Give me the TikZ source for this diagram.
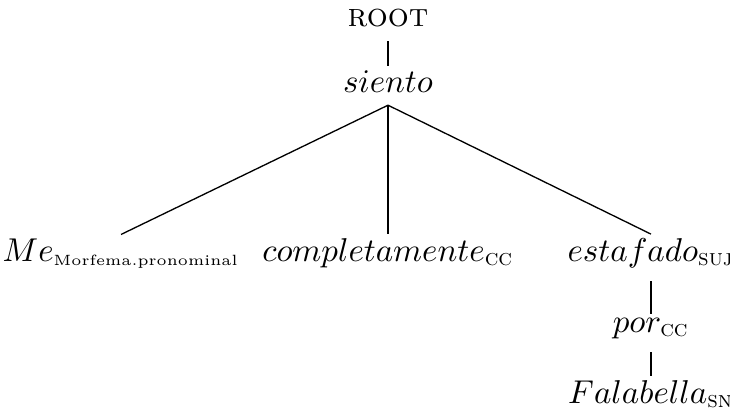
\documentclass[tikz,border=0pt]{standalone}
\usepackage{amsmath}

\tikzset{word/.style={anchor=base, inner sep=1pt},
         branch/.style={shorten <=3pt}}

\begin{document}
\begin{tikzpicture}[x=0.303pt, y=-0.303pt]
    \useasboundingbox (0,0) rectangle (730,408);
    \node[word] (root) at (388, 27) {\textsc{root}};
    \node[word] (siento) at (388, 92) {$siento$};
    \coordinate (fork) at ([yshift=-4pt]siento.base);
    \node[word] (me) at (121, 261) {$Me_{\text{\fontsize{4.5}{5}\selectfont Morfema.pronominal}}$};
    \node[word] (compl) at (388, 261) {$completamente_{\textsc{cc}}$};
    \node[word] (estaf) at (651, 261) {$estafado_{\textsc{suj}}$};
    \node[word] (por) at (651, 332) {$por_{\textsc{cc}}$};
    \node[word] (fala) at (651, 403) {$Falabella_{\textsc{sn}}$};

    \draw[branch] (root) -- (siento);
    \draw (fork) -- (me.north);
    \draw (fork) -- (compl.north);
    \draw (fork) -- (estaf.north);
    \draw[branch] (estaf) -- (por);
    \draw[branch] (por) -- (fala);
\end{tikzpicture}
\end{document}
